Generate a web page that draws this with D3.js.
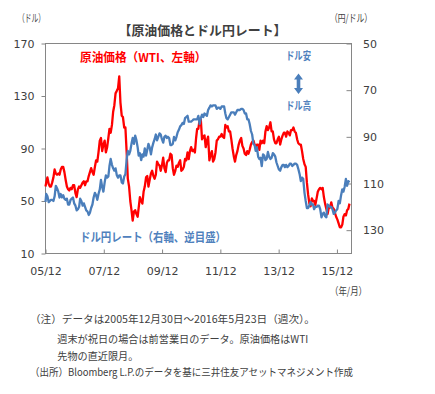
<!DOCTYPE html>
<html><head><meta charset="utf-8">
<script src="https://cdn.jsdelivr.net/npm/d3@7"></script>
<style>body{margin:0;background:#fff}</style>
</head><body><svg id="c" width="435" height="394"></svg>
<script>
// ---- data ----
const startDate = "2005-12-30";
const endDate = "2016-05-23";
// WTI crude (USD/bbl), 2005-12-30 then two readings per month (~8th, ~23rd)
const oil = [61.0,
 // 2006
 64,68, 63,61, 61,64, 68,74, 71,70, 71,70, 74,76, 76,72, 66,61, 59,58, 60,59, 62,62,
 // 2007
 56,53, 59,61, 60,62, 64,65, 62,65, 65,69, 72,75, 72,70, 76,81, 80,87, 96,98, 88,93,
 // 2008
 96,87, 91,98, 105,102, 108,118, 123,132, 134,136, 145,125, 115,114, 106,106, 88,67, 61,50, 43,35,
 // 2009
 42,43, 40,38, 45,53, 50,48, 57,61, 68,69, 61,66, 71,73, 69,67, 70,80, 78,77, 73,77,
 // 2010
 83,75, 72,79, 81,81, 86,85, 75,70, 73,77, 76,79, 81,73, 74,76, 82,81, 87,82, 88,91,
 // 2011
 88,89, 87,98, 105,105, 112,112, 97,99, 100,91, 96,99, 81,85, 88,80, 82,87, 96,97, 99,99,
 // 2012
 101,99, 98,108, 106,107, 103,103, 97,90, 84,80, 85,88, 93,96, 98,92, 90,86, 85,88, 86,89,
 // 2013
 93,95, 96,93, 91,93, 93,89, 96,94, 96,94, 103,107, 104,106, 110,103, 103,97, 94,94, 97,99,
 // 2014
 93,97, 100,102, 102,99, 103,102, 100,104, 104,106, 103,102, 97,94, 93,93, 88,82, 78,76, 64,55,
 // 2015
 48,46, 52,50, 50,47, 52,57, 59,60, 59,60, 53,48, 44,40, 45,45, 49,45, 44,41, 38,36,
 // 2016
 33,30, 30,32, 38,40, 39,43, 44,48
];
// USD/JPY (yen per dollar), same dates
const usdjpy = [117.9,
 // 2006
 114.5,115.5, 118.0,117.5, 117.0,117.0, 117.5,115.5, 111.0,112.0, 113.5,116.0, 114.5,116.0, 115.0,116.5, 117.0,116.5, 119.0,119.0, 117.0,116.5, 116.0,118.5,
 // 2007
 119.5,121.5, 121.0,120.0, 116.5,117.5, 119.5,118.5, 120.0,121.5, 122.0,123.5, 122.5,120.5, 119.0,116.0, 114.0,115.0, 117.0,114.5, 112.5,108.5, 111.5,113.5,
 // 2008
 109.5,106.5, 107.5,107.0, 102.5,99.5, 102.0,103.5, 104.5,103.5, 106.5,107.5, 106.5,106.5, 109.5,110.0, 107.0,106.0, 100.0,96.0, 97.5,96.0, 93.0,90.5,
 // 2009
 93.0,89.5, 91.5,94.5, 98.0,97.0, 100.0,97.5, 98.5,95.0, 98.0,95.5, 93.0,94.5, 97.5,94.5, 92.5,91.0, 89.0,91.5, 90.0,88.5, 89.0,91.0,
 // 2010
 92.5,90.0, 89.5,90.5, 90.0,90.5, 93.5,93.5, 93.0,90.0, 91.5,90.0, 88.0,87.0, 85.5,85.0, 84.0,84.5, 82.0,81.5, 81.0,83.5, 83.5,83.5,
 // 2011
 83.0,82.5, 82.5,82.5, 82.5,81.0, 84.5,82.0, 80.5,81.5, 80.0,80.5, 81.0,78.5, 77.5,76.5, 77.0,76.5, 76.5,76.5, 78.0,77.5, 77.5,78.0,
 // 2012
 77.0,77.0, 77.0,80.0, 82.0,82.5, 81.5,80.5, 79.5,79.5, 79.5,80.5, 79.5,78.5, 78.5,78.5, 78.0,78.0, 78.5,80.0, 80.0,82.5, 82.5,84.5,
 // 2013
 87.5,89.0, 93.0,93.5, 96.0,94.5, 98.5,99.5, 99.0,102.5, 97.5,98.0, 100.0,99.5, 96.5,98.5, 99.5,99.0, 97.0,97.5, 98.5,101.0, 102.5,104.0,
 // 2014
 104.5,103.0, 102.0,102.0, 103.0,102.0, 103.0,102.5, 101.5,101.5, 102.5,102.0, 101.5,101.5, 102.0,103.8, 106.0,109.0, 107.5,108.0, 114.0,117.5, 120.5,120.5,
 // 2015
 119.5,118.0, 119.0,119.0, 121.0,120.0, 120.0,119.5, 119.5,121.0, 124.5,123.0, 122.5,124.0, 124.5,119.0, 119.5,120.0, 120.0,121.0, 123.0,122.5, 121.5,121.0,
 // 2016
 117.5,118.5, 115.0,112.5, 113.5,111.5, 108.0,111.0, 109.0,109.5
];
const leftTicks = [10, 50, 90, 130, 170];
const rightTicks = [50, 70, 90, 110, 130];
const xTickLabels = ["05/12", "07/12", "09/12", "11/12", "13/12", "15/12"];
const xTickDates = ["2005-12-30", "2007-12-28", "2009-12-25", "2011-12-23", "2013-12-20", "2015-12-18"];

// ---- dates for the series (start, then ~8th and ~23rd of each month) ----
const parse = d3.timeParse("%Y-%m-%d");
const dates = oil.map((_, i) => {
  if (i === 0) return parse(startDate);
  const k = i - 1;
  return new Date(2006 + Math.floor(k / 24), Math.floor(k / 2) % 12, k % 2 ? 23 : 8);
});

// ---- layout ----
const L = 45.5, R = 351.5, T = 43.5, B = 253.5;
const svg = d3.select("#c");
const grey = "#868686", txt = "#404040";
const jp = "'Noto Sans CJK JP', sans-serif";
const num = "'DejaVu Sans', sans-serif";

const x = d3.scaleTime().domain([parse(startDate), parse(endDate)]).range([L, 349.5]);
const yL = d3.scaleLinear().domain([10, 170]).range([B, T]);
const yR = d3.scaleLinear().domain([50, 140]).range([T, B]);

// frame
svg.append("rect").attr("x", L).attr("y", T).attr("width", R - L).attr("height", B - T)
  .attr("fill", "none").attr("stroke", grey).attr("stroke-width", 1);

// left axis
const gL = svg.append("g").attr("transform", `translate(${L},0)`)
  .call(d3.axisLeft(yL).tickValues(leftTicks).tickSize(4).tickPadding(7));
// right axis (ticks inward)
const gR = svg.append("g").attr("transform", `translate(${R},0)`)
  .call(d3.axisRight(yR).tickValues(rightTicks).tickSize(-5).tickPadding(11.5));
// bottom axis (ticks inward)
const gB = svg.append("g").attr("transform", `translate(0,${B})`)
  .call(d3.axisBottom(x).tickValues(xTickDates.map(parse)).tickSize(-4).tickPadding(14)
    .tickFormat((d, i) => xTickLabels[i]));

[gL, gR, gB].forEach(g => {
  g.select(".domain").remove();
  g.selectAll(".tick line").attr("stroke", grey);
  g.selectAll(".tick text").attr("fill", txt).style("font-family", num).style("font-size", "11px");
});

// lines
const lineOil = d3.line().x((d, i) => x(dates[i])).y(d => yL(d));
const lineFx = d3.line().x((d, i) => x(dates[i])).y(d => yR(d));
svg.append("path").datum(oil).attr("d", lineOil).attr("fill", "none")
  .attr("stroke", "#ff0000").attr("stroke-width", 2.3).attr("stroke-linejoin", "round");
svg.append("path").datum(usdjpy).attr("d", lineFx).attr("fill", "none")
  .attr("stroke", "#4a7ebb").attr("stroke-width", 2.3).attr("stroke-linejoin", "round");

// texts
function label(t, xx, yy, opt) {
  const el = svg.append("text").attr("x", xx).attr("y", yy).text(t)
    .attr("dominant-baseline", "central")
    .style("font-family", opt.font || jp).style("font-size", (opt.size || 11) + "px")
    .style("font-weight", opt.bold ? "bold" : "normal")
    .attr("fill", opt.color || txt)
    .attr("text-anchor", opt.anchor || "start");
  if (opt.len) el.attr("textLength", opt.len).attr("lengthAdjust", "spacingAndGlyphs");
  return el;
}
label("【原油価格とドル円レート】", 202.5, 29, {size: 13, bold: true, anchor: "middle", len: 168});
label("（ドル）", 18, 17, {size: 10.5, len: 27});
label("（円/ドル）", 330, 17, {size: 10.5, len: 42});
label("（年/月）", 330, 290.5, {size: 10.5, len: 37});

label("原油価格（WTI、左軸）", 80, 56.5, {size: 12, bold: true, color: "#ff0000", len: 126.5});
label("ドル円レート（右軸、逆目盛）", 80, 236.5, {size: 12, bold: true, color: "#4f81bd", len: 146});
label("ドル安", 286, 55, {size: 11, bold: true, color: "#4f81bd", len: 25});
label("ドル高", 286, 105, {size: 11, bold: true, color: "#4f81bd", len: 25});

// double arrow
const ax = 298.5, at = 73.5, ab = 94;
svg.append("path")
  .attr("d", `M${ax},${at} L${ax + 4.5},${at + 6} L${ax + 1.8},${at + 6} L${ax + 1.8},${ab - 6} L${ax + 4.5},${ab - 6} L${ax},${ab} L${ax - 4.5},${ab - 6} L${ax - 1.8},${ab - 6} L${ax - 1.8},${at + 6} L${ax - 4.5},${at + 6} Z`)
  .attr("fill", "#4a7ebb");

// notes
label("（注）データは2005年12月30日～2016年5月23日（週次）。", 30, 318.3, {size: 10.5, len: 285});
label("週末が祝日の場合は前営業日のデータ。原油価格はWTI", 57.3, 338.3, {size: 10.5, len: 251});
label("先物の直近限月。", 57.3, 355, {size: 10.5, len: 81});
label("（出所）Bloomberg L.P.のデータを基に三井住友アセットマネジメント作成", 30, 371, {size: 10.5, len: 323});
</script></body></html>
